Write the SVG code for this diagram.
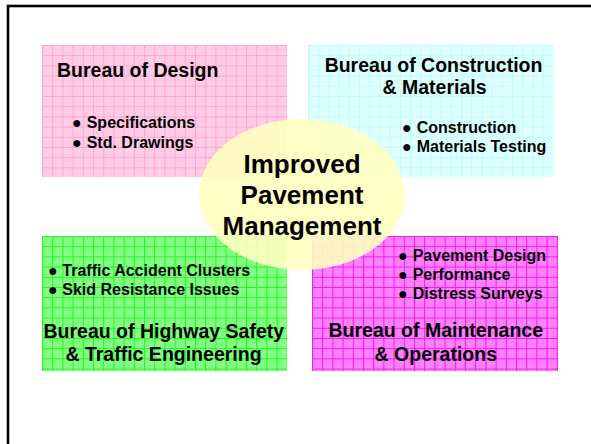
<svg xmlns="http://www.w3.org/2000/svg" width="591" height="444" viewBox="0 0 591 444">
  <defs>
    <pattern id="pPink" patternUnits="userSpaceOnUse" x="42" y="45" width="10.2" height="10.2">
      <rect width="10.2" height="10.2" fill="#FFCCE6"/>
      <path d="M0 0.5H10.2M0.5 0V10.2" stroke="#FFA6D2" stroke-width="1"/>
    </pattern>
    <pattern id="pCyan" patternUnits="userSpaceOnUse" x="308" y="45" width="10.2" height="10.2">
      <rect width="10.2" height="10.2" fill="#DDFFFF"/>
      <path d="M0 0.5H10.2M0.5 0V10.2" stroke="#C0FCFC" stroke-width="1"/>
    </pattern>
    <pattern id="pGreen" patternUnits="userSpaceOnUse" x="42" y="236" width="10.2" height="10.2">
      <rect width="10.2" height="10.2" fill="#80FF80"/>
      <path d="M0 0.5H10.2M0.5 0V10.2" stroke="#2AF02A" stroke-width="1"/>
    </pattern>
    <pattern id="pMag" patternUnits="userSpaceOnUse" x="312" y="236" width="10.2" height="10.2">
      <rect width="10.2" height="10.2" fill="#FF80FF"/>
      <path d="M0 0.5H10.2M0.5 0V10.2" stroke="#F01AF0" stroke-width="1"/>
    </pattern>
  </defs>
  <style>
    text { font-family: "Liberation Sans", Arial, sans-serif; font-weight: bold; fill: #000; }
    .title { font-size: 19.5px; }
    .item { font-size: 16px; }
    .center { font-size: 26px; text-anchor: middle; }
    .mid { text-anchor: middle; }
  </style>
  <rect x="0" y="0" width="591" height="444" fill="#FFFFFF"/>
  <rect id="frame" x="8" y="6" width="620" height="480" fill="none" stroke="#000" stroke-width="2.6"/>

  <g id="design">
    <rect x="42" y="45" width="245" height="132" fill="url(#pPink)"/>
    <text class="title" x="57" y="77.3">Bureau of Design</text>
    <text class="item" y="128.3"><tspan x="72">●</tspan><tspan x="86.7">Specifications</tspan></text>
    <text class="item" y="147.7"><tspan x="72">●</tspan><tspan x="86.7">Std. Drawings</tspan></text>
  </g>

  <g id="construction">
    <rect x="308" y="45" width="245.5" height="132" fill="url(#pCyan)"/>
    <text class="title mid" x="433.5" y="71.7">Bureau of Construction</text>
    <text class="title mid" x="434.5" y="94.3">&amp; Materials</text>
    <text class="item" y="132.7"><tspan x="402">●</tspan><tspan x="416.7">Construction</tspan></text>
    <text class="item" y="151.7"><tspan x="402">●</tspan><tspan x="416.7">Materials Testing</tspan></text>
  </g>

  <g id="safety">
    <rect x="42" y="236" width="245" height="135" fill="url(#pGreen)"/>
    <text class="item" y="275.7"><tspan x="48">●</tspan><tspan x="62.3">Traffic Accident Clusters</tspan></text>
    <text class="item" y="295"><tspan x="48">●</tspan><tspan x="62.3">Skid Resistance Issues</tspan></text>
    <text class="title mid" x="163.8" y="338.3">Bureau of Highway Safety</text>
    <text class="title mid" x="163.5" y="360.7">&amp; Traffic Engineering</text>
  </g>

  <g id="maintenance">
    <rect x="312" y="236" width="246" height="135" fill="url(#pMag)"/>
    <text class="item" y="261"><tspan x="398">●</tspan><tspan x="412.7">Pavement Design</tspan></text>
    <text class="item" y="280"><tspan x="398">●</tspan><tspan x="412.7">Performance</tspan></text>
    <text class="item" y="299.3"><tspan x="398">●</tspan><tspan x="412.7">Distress Surveys</tspan></text>
    <text class="title mid" x="435.8" y="337.3">Bureau of Maintenance</text>
    <text class="title mid" x="435.8" y="360.7">&amp; Operations</text>
  </g>

  <g id="center">
    <ellipse cx="302" cy="194.5" rx="103" ry="75.5" fill="#FFFFC0" fill-opacity="0.9"/>
    <text class="center" x="302" y="172.7">Improved</text>
    <text class="center" x="302" y="204">Pavement</text>
    <text class="center" x="302" y="235">Management</text>
  </g>

  <g id="connectors"/>
</svg>
